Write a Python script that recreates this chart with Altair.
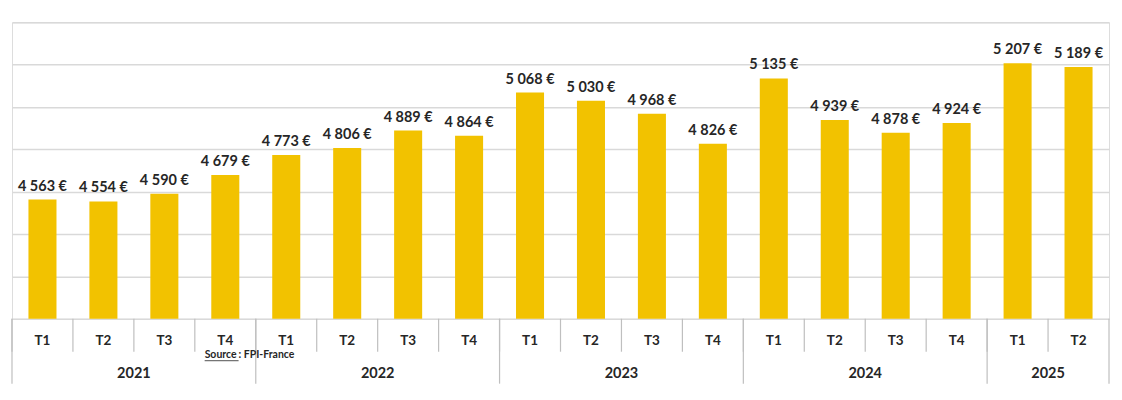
import altair as alt
import pandas as pd

years = ["2021", "2021", "2021", "2021", "2022", "2022", "2022", "2022",
         "2023", "2023", "2023", "2023", "2024", "2024", "2024", "2024",
         "2025", "2025"]
quarters = ["T1", "T2", "T3", "T4", "T1", "T2", "T3", "T4",
            "T1", "T2", "T3", "T4", "T1", "T2", "T3", "T4",
            "T1", "T2"]
values = [4563, 4554, 4590, 4679, 4773, 4806, 4889, 4864,
          5068, 5030, 4968, 4826, 5135, 4939, 4878, 4924,
          5207, 5189]

keys = [f"{y}-{q}" for y, q in zip(years, quarters)]
df = pd.DataFrame({"key": keys, "year": years, "q": quarters, "v": values})

year_names = ["2021", "2022", "2023", "2024", "2025"]
ydf_rows = []
for yn in year_names:
    idx = [i for i, y in enumerate(years) if y == yn]
    ydf_rows.append({"year": yn, "start": keys[idx[0]], "mid": keys[idx[0] + len(idx) // 2]})
ydf = pd.DataFrame(ydf_rows)

W, H = 1099, 297
FONT = "Lato"
TXT = "#262626"
LINE = "#bfbfbf"

xs = alt.Scale(domain=keys, paddingInner=0, paddingOuter=0)
ysc = alt.Scale(domain=[4000, 5400], nice=False, zero=False)

base = alt.Chart(df)

bars = base.mark_bar(color="#F2C200", clip=True, width={"band": 0.46}).encode(
    x=alt.X("key:N", scale=xs, axis=None, sort=keys),
    y=alt.Y("v:Q", scale=ysc,
            axis=alt.Axis(values=list(range(4000, 5401, 200)), labels=False, ticks=False,
                          domain=False, title=None, grid=True, gridColor="#d9d9d9", gridWidth=1.5)),
)

labels = base.transform_calculate(
    lab="replace(format(datum.v, ','), ',', ' ') + ' €'"
).mark_text(font=FONT, fontWeight="bold", fontSize=14.5, color=TXT, baseline="bottom", dy=-6).encode(
    x=alt.X("key:N", scale=xs, sort=keys),
    y=alt.Y("v:Q", scale=ysc),
    text="lab:N",
)

qtext = base.mark_text(font=FONT, fontWeight="bold", fontSize=13.5, color=TXT, baseline="middle").encode(
    x=alt.X("key:N", scale=xs, sort=keys),
    y=alt.value(H + 22),
    text="q:N",
)

qsep = base.mark_rule(color=LINE, strokeWidth=1.2).encode(
    x=alt.X("key:N", scale=xs, sort=keys, bandPosition=0),
    y=alt.value(H),
    y2=alt.value(H + 33),
)

ysep = alt.Chart(ydf).mark_rule(color=LINE, strokeWidth=1.2).encode(
    x=alt.X("start:N", scale=xs, sort=keys, bandPosition=0),
    y=alt.value(H),
    y2=alt.value(H + 65),
)

rightedge = alt.Chart(ydf).transform_filter("datum.year == '2025'").mark_rule(
    color=LINE, strokeWidth=1.2).encode(
    x=alt.value(W),
    y=alt.value(H),
    y2=alt.value(H + 65),
)

ytext = alt.Chart(ydf).mark_text(font=FONT, fontWeight="bold", fontSize=14.5, color=TXT,
                                 baseline="middle").encode(
    x=alt.X("mid:N", scale=xs, sort=keys, bandPosition=0),
    y=alt.value(H + 55),
    text="year:N",
)

srcdf = pd.DataFrame({"a": ["Source"], "b": [" : FPI-France"]})
src1 = alt.Chart(srcdf).mark_text(font=FONT, fontWeight="bold", fontSize=10.5, color=TXT,
                                  align="left", baseline="middle").encode(
    x=alt.value(193), y=alt.value(H + 36), text="a:N")
src2 = alt.Chart(srcdf).mark_text(font=FONT, fontWeight="bold", fontSize=10.5, color=TXT,
                                  align="left", baseline="middle").encode(
    x=alt.value(227), y=alt.value(H + 36), text="b:N")
srcu = alt.Chart(srcdf).mark_rule(color=TXT, strokeWidth=0.8).encode(
    x=alt.value(193), x2=alt.value(227), y=alt.value(H + 42))

chart = alt.layer(bars, labels, qsep, ysep, rightedge, qtext, ytext, src1, src2, srcu).properties(
    width=W, height=H,
    padding={"left": 4, "top": 14, "right": 5, "bottom": 70},
    autosize=alt.AutoSizeParams(type="none"),
).configure_view(stroke=None).configure(background="white")

chart.save("out.html", embed_options={"renderer": "svg", "actions": False})
